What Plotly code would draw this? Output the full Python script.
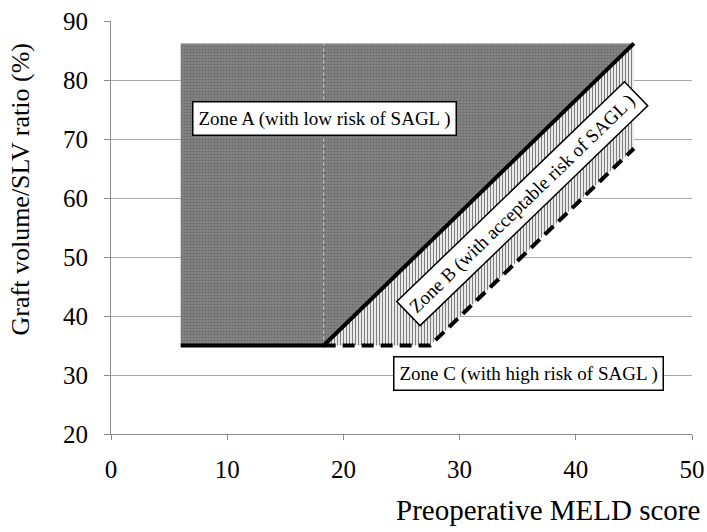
import plotly.graph_objects as go

# --- data ---
meld_safe = [6, 18.3, 45]          # solid boundary (Zone A / Zone B)
grv_safe = [35, 35, 86.2]
meld_limit = [18.3, 27.45, 45]     # dashed boundary (Zone B / Zone C)
grv_limit = [35, 35, 68.4]
zone_a_left = 6
zone_top = 86.2
x_ticks = [0, 10, 20, 30, 40, 50]
y_ticks = [20, 30, 40, 50, 60, 70, 80, 90]

FONT = "Liberation Serif, Times New Roman, serif"

fig = go.Figure()

# Zone A polygon
za_x = [zone_a_left] + meld_safe + [zone_a_left, zone_a_left]
za_y = [grv_safe[0]] + grv_safe + [zone_top, grv_safe[0]]
fig.add_trace(go.Scatter(
    x=za_x, y=za_y, mode="lines", fill="toself",
    fillcolor="#787878", line=dict(width=0),
    fillpattern=dict(shape=".", bgcolor="#868686", fgcolor="#4e4e4e",
                     size=3, solidity=0.4),
    hoverinfo="skip", showlegend=False))

# Zone B polygon (between the two boundaries)
zb_x = meld_safe[1:] + meld_limit[::-1]
zb_y = grv_safe[1:] + grv_limit[::-1]
fig.add_trace(go.Scatter(
    x=zb_x, y=zb_y, mode="lines", fill="toself",
    fillcolor="white", line=dict(width=0),
    fillpattern=dict(shape="|", bgcolor="white", fgcolor="black",
                     size=3, solidity=0.45),
    hoverinfo="skip", showlegend=False))

# light vertical line inside zone A at the corner
fig.add_trace(go.Scatter(
    x=[meld_safe[1], meld_safe[1]], y=[grv_safe[1], zone_top], mode="lines",
    line=dict(color="#d0d0d0", width=1, dash="dot"),
    hoverinfo="skip", showlegend=False))

# dashed limit line
fig.add_trace(go.Scatter(
    x=meld_limit, y=grv_limit, mode="lines",
    line=dict(color="black", width=4, dash="12px,7px"),
    hoverinfo="skip", showlegend=False))

# solid safe line
fig.add_trace(go.Scatter(
    x=meld_safe, y=grv_safe, mode="lines",
    line=dict(color="black", width=4),
    hoverinfo="skip", showlegend=False))

box = dict(bgcolor="white", bordercolor="black", borderwidth=1.5, borderpad=5,
           showarrow=False, font=dict(family=FONT, size=19, color="black"))

fig.add_annotation(x=18.4, y=73.5, text="Zone A (with low risk of SAGL )", **box)
fig.add_annotation(x=35.4, y=59.1, text="Zone B (with acceptable risk of SAGL )",
                   textangle=-44, **box)
fig.add_annotation(x=35.9, y=30.3, text="Zone C (with high risk of SAGL )", **box)

# axis titles
fig.add_annotation(xref="paper", yref="paper", x=-0.156, y=0.593,
                   text="Graft volume/SLV ratio (%)", textangle=-90,
                   showarrow=False, xanchor="center", yanchor="middle",
                   font=dict(family=FONT, size=26, color="black"))
fig.add_annotation(xref="paper", yref="paper", x=0.752, y=-0.184,
                   text="Preoperative MELD score",
                   showarrow=False, xanchor="center", yanchor="middle",
                   font=dict(family=FONT, size=29, color="black"))

fig.update_layout(
    width=707, height=532,
    margin=dict(l=111, r=15, t=21, b=98, autoexpand=False),
    paper_bgcolor="white", plot_bgcolor="white",
    showlegend=False,
    xaxis=dict(range=[0, 50], tickvals=x_ticks, ticktext=[str(v) for v in x_ticks],
               showgrid=False, zeroline=False, automargin=False,
               ticklabeloverflow="allow",
               showline=True, linecolor="#8c8c8c", linewidth=1,
               ticks="outside", ticklen=5, tickcolor="#8c8c8c",
               ticklabelstandoff=8,
               tickfont=dict(family=FONT, size=25, color="black")),
    yaxis=dict(range=[20, 90], tickvals=y_ticks, ticktext=[str(v) for v in y_ticks],
               showgrid=True, gridcolor="#a8a8a8", gridwidth=1, zeroline=False,
               automargin=False, ticklabeloverflow="allow",
               showline=True, linecolor="#8c8c8c", linewidth=1,
               ticks="outside", ticklen=6, tickcolor="#8c8c8c",
               ticklabelstandoff=11,
               tickfont=dict(family=FONT, size=25, color="black")),
)

# remove the default 8px page margin so the 707x532 figure fills the window exactly
fig.write_html("out.html",
               config={"displayModeBar": False},
               post_script="document.body.style.margin='0';document.body.style.overflow='hidden';")
